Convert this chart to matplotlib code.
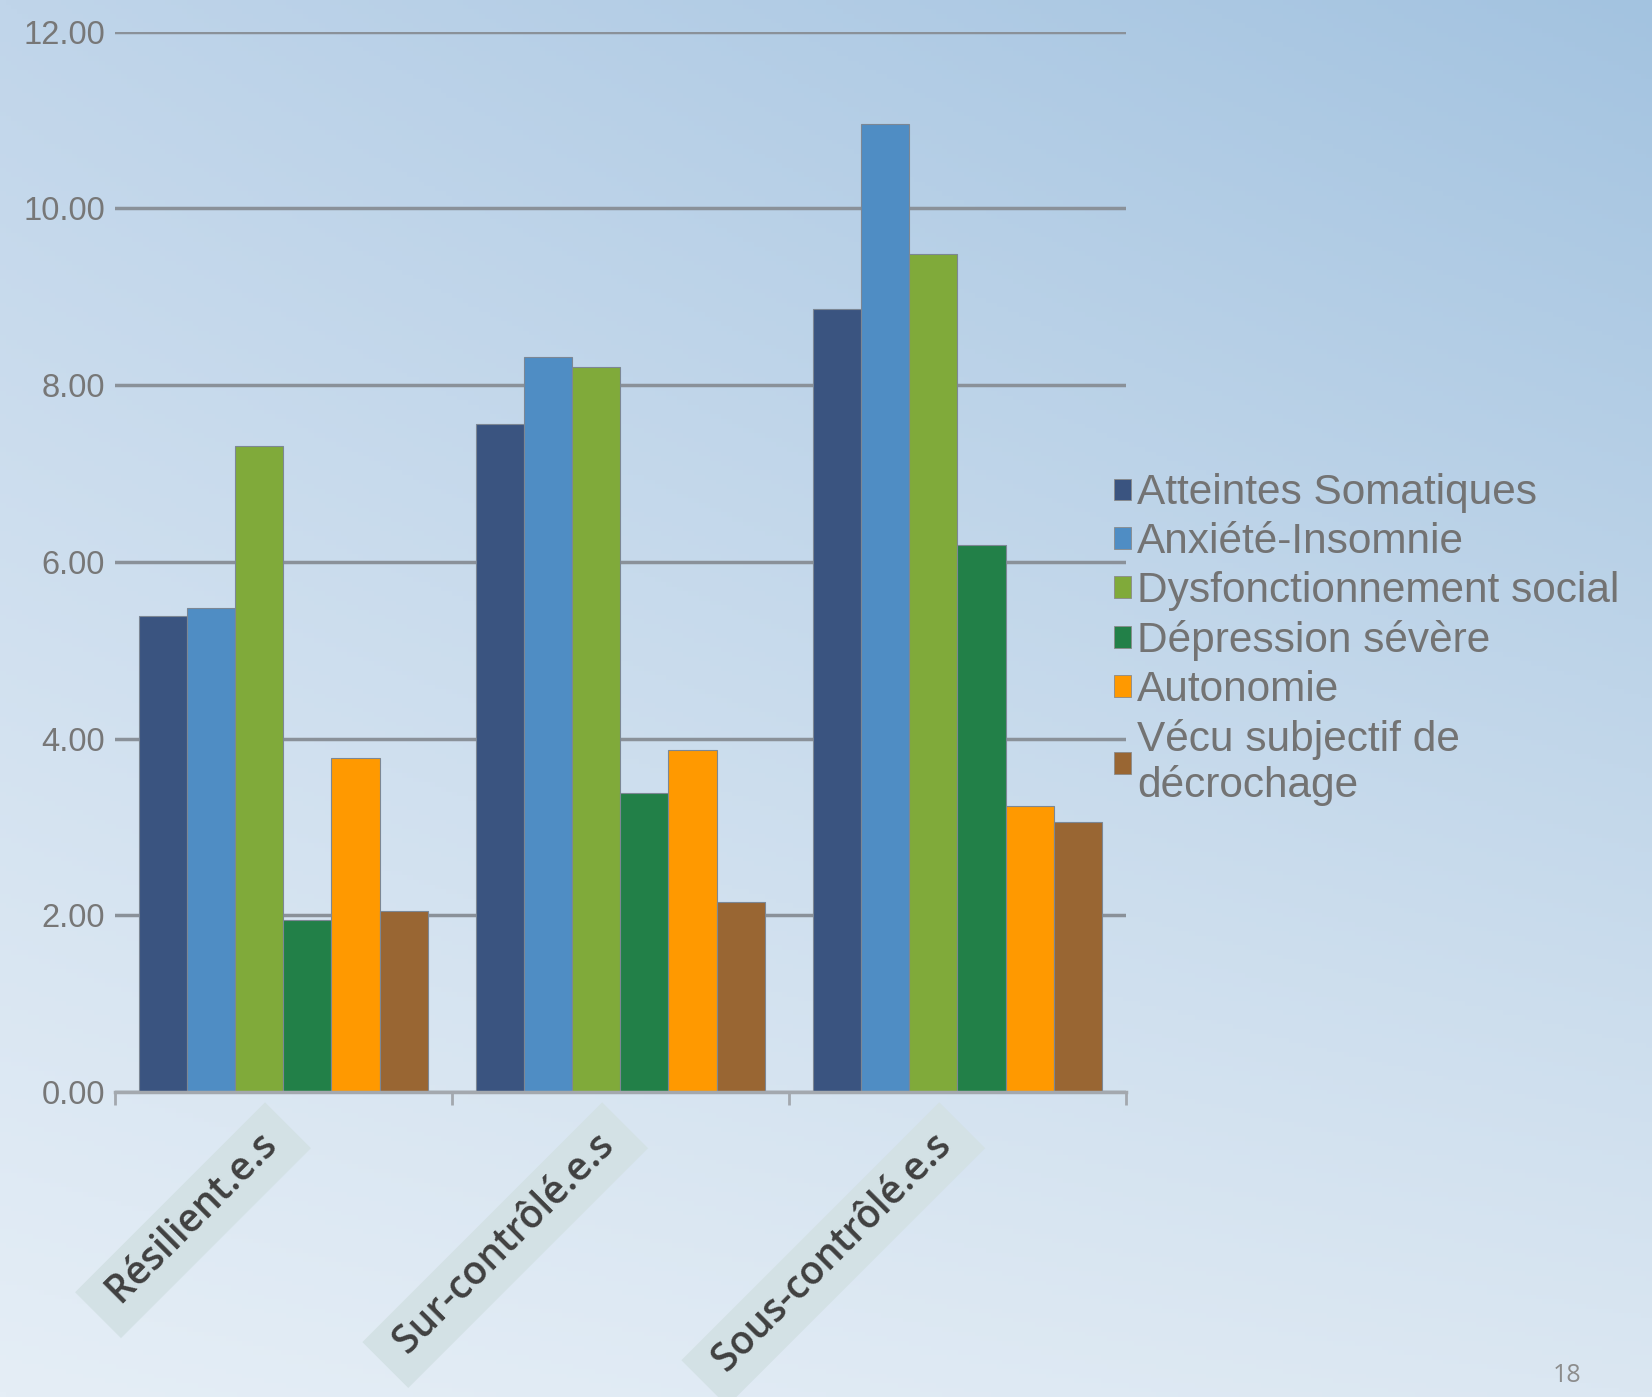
import numpy as np
import matplotlib
matplotlib.use('Agg')
import matplotlib.pyplot as plt
from matplotlib.patches import Patch

# data
groups = ['Résilient.e.s', 'Sur-contrôlé.e.s', 'Sous-contrôlé.e.s']
series = ['Atteintes Somatiques', 'Anxiété-Insomnie', 'Dysfonctionnement social',
          'Dépression sévère', 'Autonomie', 'Vécu subjectif de\ndécrochage']
atteintes = [5.39, 7.56, 8.86]
anxiete = [5.48, 8.32, 10.95]
dysfonction = [7.31, 8.20, 9.48]
depression = [1.95, 3.38, 6.19]
autonomie = [3.78, 3.87, 3.24]
vecu = [2.05, 2.15, 3.06]
yticks = [0, 2, 4, 6, 8, 10, 12]

values = [atteintes, anxiete, dysfonction, depression, autonomie, vecu]
colors = ['#3A5480', '#4F8DC4', '#80AA3A', '#228048', '#FF9900', '#996633']

fig = plt.figure(figsize=(16.52, 13.97), dpi=100)

# background gradient (darker top right, lighter bottom left)
bg = fig.add_axes([0, 0, 1, 1], zorder=-10)
tl = np.array([192, 213, 234]) / 255
tr = np.array([163, 195, 224]) / 255
bl = np.array([229, 238, 246]) / 255
br = np.array([219, 231, 242]) / 255
u = np.linspace(0, 1, 300)[None, :, None]   # left -> right
v = np.linspace(0, 1, 300)[:, None, None]   # top -> bottom
img = (1 - v) * ((1 - u) * tl + u * tr) + v * ((1 - u) * bl + u * br)
bg.imshow(img, extent=[0, 1, 0, 1], aspect='auto', origin='upper')
bg.axis('off')

ax = fig.add_axes([0.0694, 0.2183, 0.6122, 0.759])
ax.set_facecolor('none')

x = np.arange(len(groups))
w = 1 / 7
for i, (vals, c) in enumerate(zip(values, colors)):
    ax.bar(x + (i - 2.5) * w, vals, width=w, color=c, edgecolor='#7C8794',
           linewidth=0.8, zorder=3, label=series[i])

ax.set_xlim(-0.5, 2.5)
ax.set_ylim(0, 12)
ax.set_yticks(yticks)
ax.set_yticklabels(['%.2f' % t for t in yticks], fontsize=23.5, color='#777777',
                   family='Liberation Sans')
ax.tick_params(axis='y', length=0, pad=7)
ax.yaxis.grid(True, color='#8A9199', linewidth=2.5, zorder=0)
ax.set_axisbelow(True)

ax.set_xticks([-0.5, 0.5, 1.5, 2.5])
ax.set_xticklabels([])
ax.tick_params(axis='x', direction='out', length=9, width=2, color='#A3A8AE')
for s in ['top', 'right', 'left']:
    ax.spines[s].set_visible(False)
ax.spines['bottom'].set_color('#A3A8AE')
ax.spines['bottom'].set_linewidth(2.5)
ax.spines['bottom'].set_zorder(4)

# rotated category labels with a pale box
for xi, g in zip(x, groups):
    ax.annotate(' ' + g + ' ', xy=(xi, 0), xycoords='data',
                xytext=(-4, -42), textcoords='offset pixels',
                ha='right', va='center', rotation=45, rotation_mode='anchor',
                fontsize=28, fontweight='semibold', family='Open Sans', color='#404040',
                bbox=dict(boxstyle='square,pad=0.32', fc='#D3E1E5', ec='none'),
                annotation_clip=False)

handles = [Patch(facecolor=c, edgecolor='#8A8A8A', linewidth=0.6) for c in colors]
leg = fig.legend(handles, series, loc='upper left', bbox_to_anchor=(0.6743, 0.6611),
                 frameon=False, borderpad=0, borderaxespad=0, handlelength=0.4,
                 handleheight=0.4, handletextpad=0.15, labelspacing=0.21,
                 prop={'family': 'Liberation Sans', 'size': 30.5})
for t in leg.get_texts():
    t.set_color('#737373')
    t.set_linespacing(1.16)

fig.text(1567 / 1652, 1 - 1375 / 1397, '18', ha='center', va='center',
         fontsize=18, color='#8C8C8C', family='Open Sans')

fig.savefig('out.png', dpi=100)
